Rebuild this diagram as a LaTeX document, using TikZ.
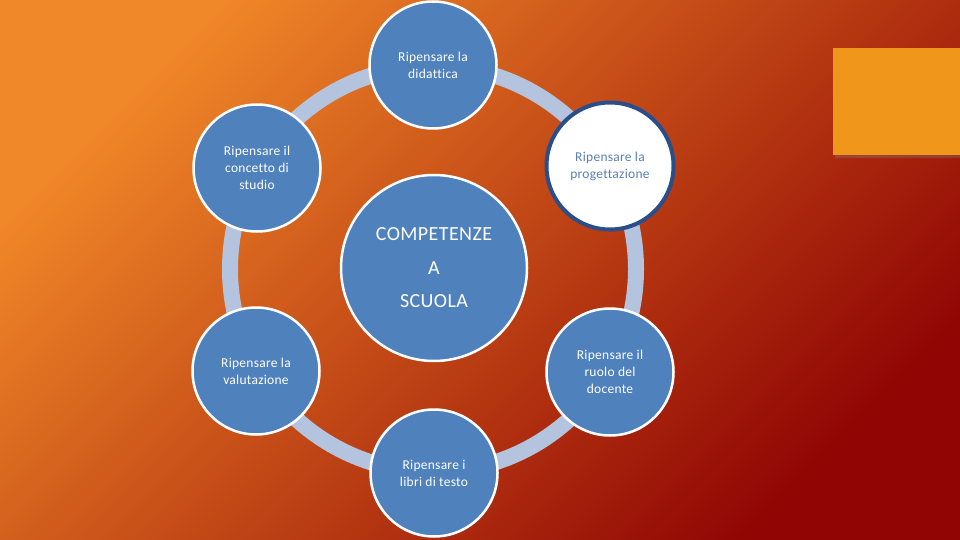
\documentclass[tikz,border=0pt]{standalone}
\usepackage{fontspec}
\setmainfont[Ligatures=NoCommon,LetterSpace=2]{Carlito}
\usepackage{tikz}
\usetikzlibrary{shadings,shadows}

\definecolor{bgorange}{RGB}{240,135,40}
\definecolor{bgmid}{RGB}{216,80,24}
\definecolor{bgred}{RGB}{145,6,4}
\definecolor{ringblue}{RGB}{180,196,222}
\definecolor{cblue}{RGB}{79,129,189}
\definecolor{cdark}{RGB}{42,78,138}
\definecolor{ctext}{RGB}{88,128,184}
\definecolor{boxorange}{RGB}{240,150,26}

\begin{document}
\begin{tikzpicture}[x=1pt,y=-1pt,
    tappa/.style={circle,fill=cblue,draw=white,line width=2.5pt,minimum size=127pt,
      inner sep=0pt,text=white,align=center,font=\fontsize{13.5}{17}\selectfont},
    tappaevid/.style={tappa,fill=white,draw=cdark,line width=4pt,text=ctext},
    nucleo/.style={tappa,minimum size=186pt,font=\fontsize{20}{33.5}\selectfont}]

\useasboundingbox (0,0) rectangle (960,540);
\shade[top color=bgorange, middle color=bgmid, bottom color=bgred, shading angle=45] (0,0) rectangle (960,540);

% riquadro a destra
\fill[boxorange, drop shadow={shadow xshift=2pt, shadow yshift=-3pt, opacity=0.35}] (833,48) rectangle (962,155);

% anello
\coordinate (centro) at (433,269);
\draw[ringblue, line width=16pt] (centro) circle[radius=203];

\node[nucleo] (competenze) at (434,268) {COMPETENZE\\A\\SCUOLA};

\node[tappa] (didattica) at (433,65) {Ripensare la\\didattica};
\node[tappaevid] (progettazione) at (610,166) {Ripensare la\\progettazione};
\node[tappa] (docente) at (610,372) {Ripensare il\\ruolo del\\docente};
\node[tappa] (libri) at (434,473) {Ripensare i\\libri di testo};
\node[tappa] (valutazione) at (256,371) {Ripensare la\\valutazione};
\node[tappa] (studio) at (257,168) {Ripensare il\\concetto di\\studio};
\end{tikzpicture}
\end{document}
